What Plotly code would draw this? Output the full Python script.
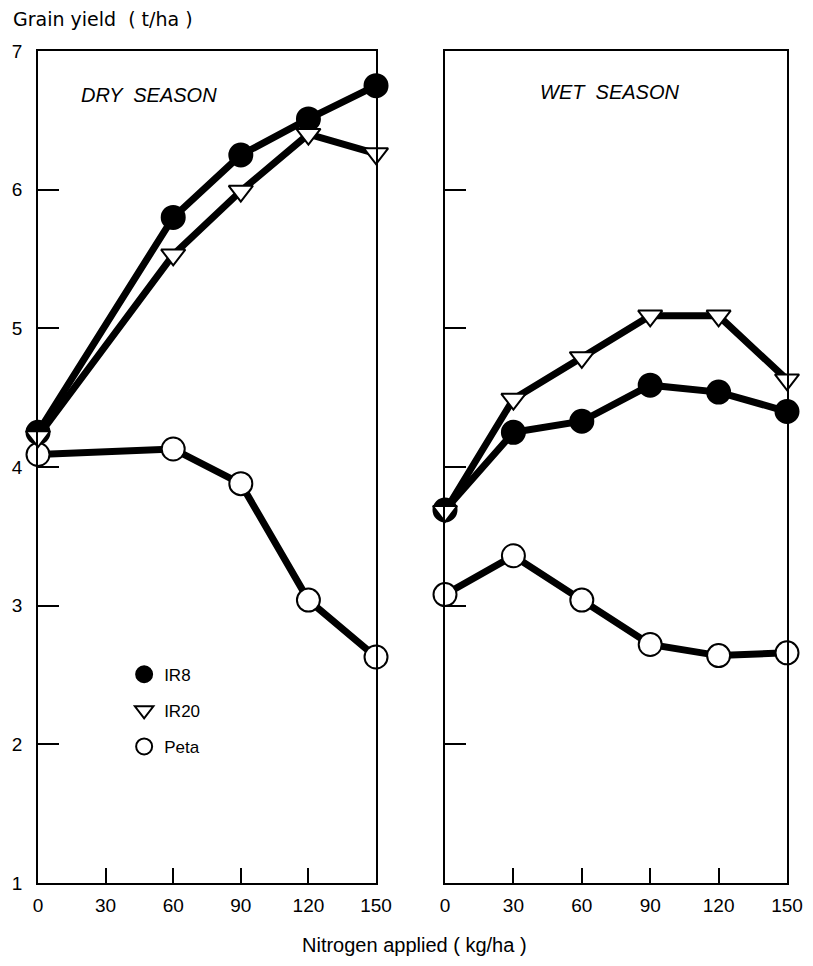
import plotly.graph_objects as go
from plotly.subplots import make_subplots

# ---- data ----
dry_n = [0, 60, 90, 120, 150]
dry_ir8 = [4.25, 5.80, 6.25, 6.51, 6.75]
dry_ir20 = [4.22, 5.53, 5.99, 6.40, 6.26]
dry_peta = [4.09, 4.13, 3.88, 3.04, 2.63]

wet_n = [0, 30, 60, 90, 120, 150]
wet_ir8 = [3.69, 4.25, 4.33, 4.59, 4.54, 4.40]
wet_ir20 = [3.68, 4.49, 4.79, 5.09, 5.09, 4.63]
wet_peta = [3.08, 3.36, 3.04, 2.72, 2.64, 2.66]

varieties = ["IR8", "IR20", "Peta"]
x_ticks = [0, 30, 60, 90, 120, 150]
y_ticks = [1, 2, 3, 4, 5, 6, 7]

FONT = "Liberation Sans"
FONT2 = "DejaVu Sans"
styles = {
    "IR8": dict(symbol="circle", size=23, color="black", line=dict(color="black", width=2)),
    "IR20": dict(symbol="triangle-down", size=21, color="white", line=dict(color="black", width=2)),
    "Peta": dict(symbol="circle", size=23, color="white", line=dict(color="black", width=2)),
}

fig = make_subplots(rows=1, cols=2, shared_yaxes=False, horizontal_spacing=0.05)

def add_panel(n, series, col):
    order = ["Peta", "IR8", "IR20"]
    for name in order:
        fig.add_trace(go.Scatter(
            x=n, y=series[name], mode="lines+markers", name=name,
            line=dict(color="black", width=7),
            marker=styles[name], showlegend=False, cliponaxis=False,
        ), row=1, col=col)

add_panel(dry_n, {"IR8": dry_ir8, "IR20": dry_ir20, "Peta": dry_peta}, 1)
add_panel(wet_n, {"IR8": wet_ir8, "IR20": wet_ir20, "Peta": wet_peta}, 2)

for i, name in enumerate(varieties):
    fig.add_trace(go.Scatter(
        x=[None], y=[None], mode="markers", name=name,
        marker=styles[name], showlegend=True, legendgroup=name,
    ), row=1, col=1)

ax_common = dict(showline=True, linecolor="black", linewidth=1.5, mirror=True,
                 ticks="inside", tickwidth=1.5, tickcolor="black",
                 showgrid=False, zeroline=False, automargin=False,
                 tickfont=dict(family=FONT, size=19, color="black"))

fig.update_xaxes(range=[0, 150], tickvals=x_ticks, ticktext=[str(t) for t in x_ticks],
                 ticklen=15, ticklabelstandoff=4, **ax_common)
fig.update_yaxes(range=[1, 7], tickvals=y_ticks, ticktext=[str(t) for t in y_ticks],
                 ticklen=21, ticklabelstandoff=10, **ax_common)
fig.update_yaxes(showticklabels=False, row=1, col=2)

fig.update_layout(
    width=813, height=966,
    margin=dict(l=30, r=34, t=43, b=91),
    plot_bgcolor="white", paper_bgcolor="white",
    xaxis=dict(domain=[0, 0.4513]),
    xaxis2=dict(domain=[0.5434, 1.0]),
    showlegend=True,
    legend=dict(x=0.115, y=0.272, xanchor="left", yanchor="top",
                font=dict(family=FONT, size=17, color="black"),
                tracegroupgap=11, bgcolor="rgba(0,0,0,0)", itemsizing="trace"),
    annotations=[
        dict(text="Grain yield  ( t/ha )", xref="paper", yref="paper",
             x=-0.036, y=1.038, xanchor="left", yanchor="middle", showarrow=False,
             font=dict(family=FONT2, size=19, color="black")),
        dict(text="<i>DRY  SEASON</i>", xref="paper", yref="paper",
             x=0.148, y=0.947, xanchor="center", yanchor="middle", showarrow=False,
             font=dict(family=FONT, size=20, color="black")),
        dict(text="<i>WET  SEASON</i>", xref="paper", yref="paper",
             x=0.763, y=0.951, xanchor="center", yanchor="middle", showarrow=False,
             font=dict(family=FONT, size=20, color="black")),
        dict(text="Nitrogen applied ( kg/ha )", xref="paper", yref="paper",
             x=0.503, y=-0.074, xanchor="center", yanchor="middle", showarrow=False,
             font=dict(family=FONT, size=20, color="black")),
    ],
)

fig.write_html("out.html")
